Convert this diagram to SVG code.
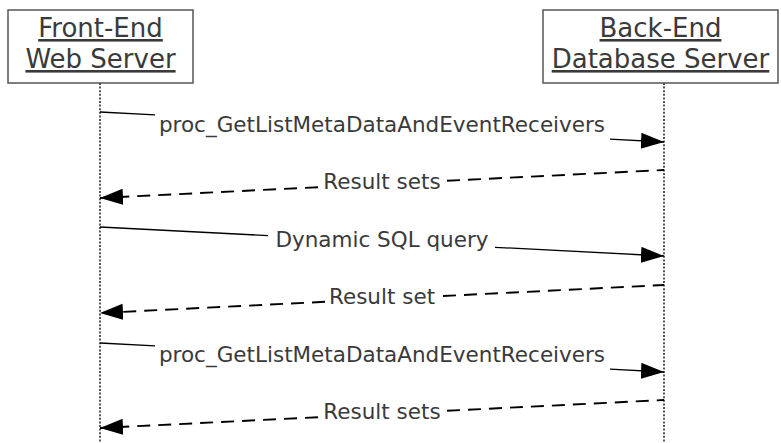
<svg xmlns="http://www.w3.org/2000/svg" width="781" height="443" viewBox="0 0 781 443">
<style>
.box{fill:#fff;stroke:#555;stroke-width:1.5}
.title{font-family:"DejaVu Sans",Verdana,sans-serif;font-size:26px;fill:#3a3a3a;text-anchor:middle;text-decoration:underline}
.life{stroke:#444;stroke-width:1.8;stroke-dasharray:2 1.6;fill:none}
.msg{stroke:#000;stroke-width:1.3;fill:none}
.ret{stroke:#000;stroke-width:1.9;stroke-dasharray:13 8;fill:none}
.lbl{font-family:"DejaVu Sans",Verdana,sans-serif;font-size:21.5px;fill:#3a3a3a;text-anchor:middle}
</style>
<defs>
<marker id="ah" markerUnits="userSpaceOnUse" markerWidth="26" markerHeight="18" refX="23" refY="8" orient="auto" viewBox="0 0 26 18">
<path d="M0,0 L23,8 L0,16 z" fill="#000"/>
</marker>
</defs>
<rect width="781" height="443" fill="#fff"/>
<g id="frontend">
<rect class="box" x="8" y="10" width="185" height="73"/>
<text class="title" x="100.5" y="37">Front-End</text>
<text class="title" x="100.5" y="68">Web Server</text>
<line class="life" x1="100" y1="83" x2="100" y2="443"/>
</g>
<g id="backend">
<rect class="box" x="543" y="10" width="235" height="73"/>
<text class="title" x="660.5" y="37">Back-End</text>
<text class="title" x="660.5" y="68">Database Server</text>
<line class="life" x1="664" y1="83" x2="664" y2="443"/>
</g>
<g id="connectors">
<line class="msg" x1="100" y1="112" x2="155" y2="114.9"/>
<line class="msg" x1="610" y1="139.1" x2="664" y2="142" marker-end="url(#ah)"/>
<text class="lbl" x="382" y="132">proc_GetListMetaDataAndEventReceivers</text>

<line class="ret" x1="447" y1="180.8" x2="664" y2="170"/>
<line class="ret" x1="318" y1="187.2" x2="100" y2="198" marker-end="url(#ah)"/>
<text class="lbl" x="382" y="189">Result sets</text>

<line class="msg" x1="100" y1="227" x2="268" y2="235.6"/>
<line class="msg" x1="495" y1="247.3" x2="664" y2="256" marker-end="url(#ah)"/>
<text class="lbl" x="382" y="247">Dynamic SQL query</text>

<line class="ret" x1="443" y1="296" x2="664" y2="285"/>
<line class="ret" x1="325" y1="301.8" x2="100" y2="313" marker-end="url(#ah)"/>
<text class="lbl" x="382" y="304">Result set</text>

<line class="msg" x1="100" y1="343" x2="155" y2="345.8"/>
<line class="msg" x1="610" y1="369.2" x2="664" y2="372" marker-end="url(#ah)"/>
<text class="lbl" x="382" y="362">proc_GetListMetaDataAndEventReceivers</text>

<line class="ret" x1="447" y1="410.8" x2="664" y2="400"/>
<line class="ret" x1="318" y1="417.2" x2="100" y2="428" marker-end="url(#ah)"/>
<text class="lbl" x="382" y="419">Result sets</text>
</g>
</svg>
